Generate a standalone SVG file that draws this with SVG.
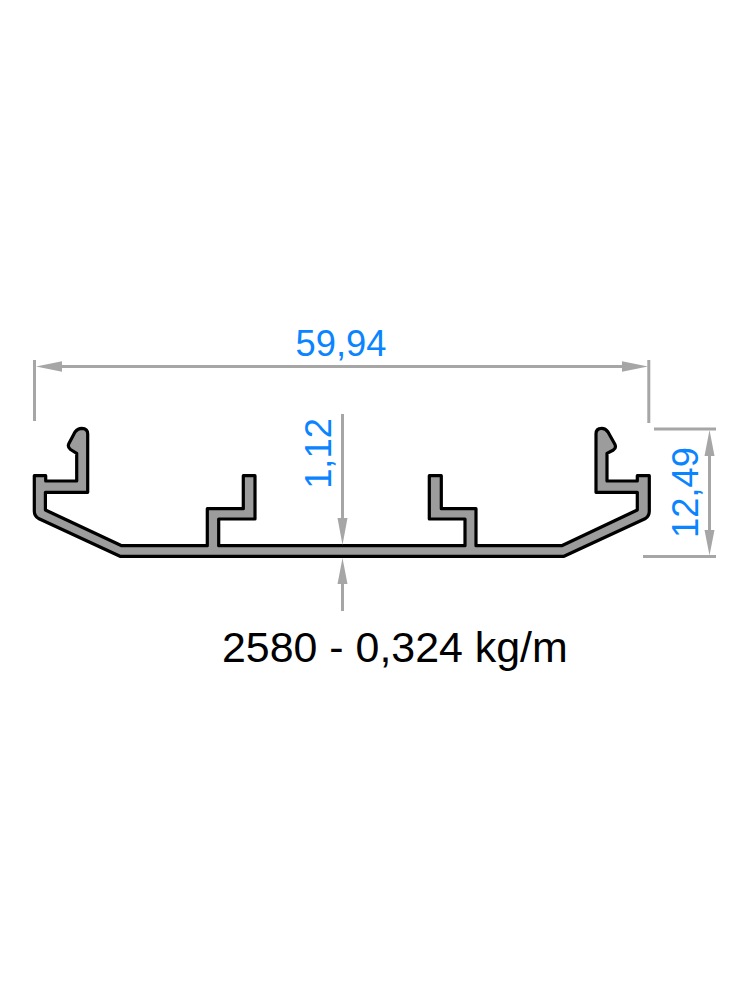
<svg xmlns="http://www.w3.org/2000/svg" width="750" height="1000" viewBox="0 0 750 1000">
<style>
.dim{stroke:#a6a6a6;stroke-width:3;fill:none}
.head{fill:#a6a6a6;stroke:none}
.lbl{font-family:"Liberation Sans",Arial,sans-serif;font-size:36.3px;fill:#0a84ff;text-anchor:middle}
.title{font-family:"Liberation Sans",Arial,sans-serif;font-size:42.9px;fill:#000}
</style>
<rect width="750" height="1000" fill="#fff"/>
<g id="profile">
<path fill="#9c9c9c" stroke="#000" stroke-width="3.2" stroke-linejoin="round" d="M76.7 481V453.3L70.5 449.5Q67.3 447 68.8 443.8L75 432Q78 428.4 81.7 428.4Q87.7 428.6 87.7 434V492.3H45.4V510L121.7 545.7H207.3V508.7H243.3V475.7H255V519H218.7V545.7H465V519H429.3V475.7H441.3V508.7H476V545.7H561.7L637.3 510V492.3H596V434Q596 428.4 601.7 428.4Q605.6 428.4 608 432L615 444.5Q616.4 448 613.4 450L607 453.3V481H637.3V475.7H649.3V511Q649.3 516 645.5 518.5L564 556.3H120L38.5 518.5Q34.3 516 34.3 511V475.7H45.7V481Z"/>
</g>
<g id="connectors">
<path class="dim" d="M34.5 360V421M648.8 360V423M60 366.5H624M342.5 414V520M342.5 584V611M654 429H716M643 556.5H716M709.5 455V532"/>
<path class="head" d="M36 366.5L62 361.3V371.8ZM648 366.5L622 361.3V371.8ZM342.5 545L337.5 518H347.5ZM342.5 558L337.5 584H347.5ZM709.5 430L704.5 456H714.5ZM709.5 555.5L704.5 530H714.5Z"/>
</g>
<g id="labels">
<text class="lbl" x="341" y="356">59,94</text>
<text class="lbl" transform="translate(331 453.5) rotate(-90)">1,12</text>
<text class="lbl" transform="translate(698 492.5) rotate(-90)">12,49</text>
<text class="title" x="222" y="661.5">2580 - 0,324 kg/m</text>
</g>
</svg>
